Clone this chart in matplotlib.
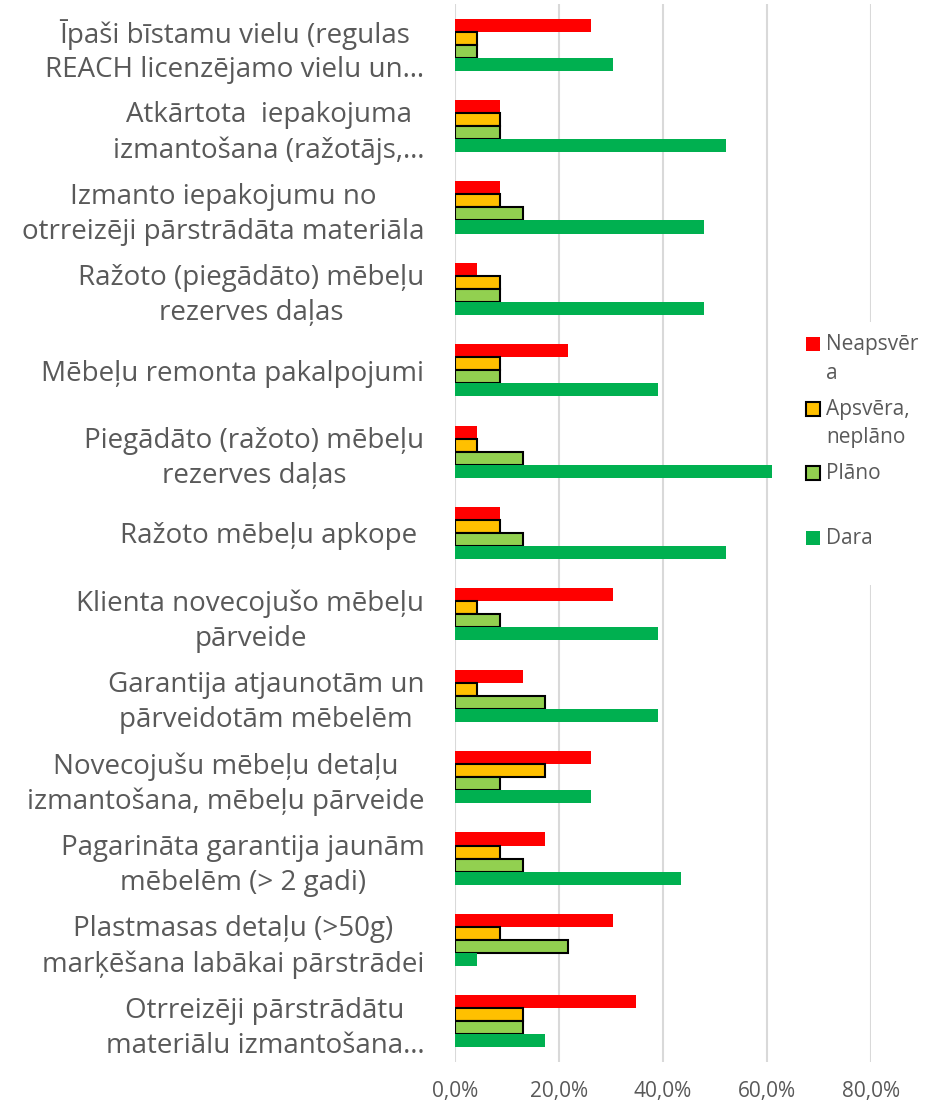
import numpy as np
import matplotlib.pyplot as plt
from matplotlib.patches import Rectangle
from matplotlib.ticker import FuncFormatter

categories = [
    "Īpaši bīstamu vielu (regulas\nREACH licenzējamo vielu un…",
    "Atkārtota  iepakojuma\nizmantošana (ražotājs,…",
    "Izmanto iepakojumu no\notrreizēji pārstrādāta materiāla",
    "Ražoto (piegādāto) mēbeļu\nrezerves daļas",
    "Mēbeļu remonta pakalpojumi",
    "Piegādāto (ražoto) mēbeļu\nrezerves daļas",
    "Ražoto mēbeļu apkope ",
    "Klienta novecojušo mēbeļu\npārveide",
    "Garantija atjaunotām un\npārveidotām mēbelēm",
    "Novecojušu mēbeļu detaļu\nizmantošana, mēbeļu pārveide",
    "Pagarināta garantija jaunām\nmēbelēm (> 2 gadi)",
    "Plastmasas detaļu (>50g)\nmarķēšana labākai pārstrādei",
    "Otrreizēji pārstrādātu\nmateriālu izmantošana…",
]

series_names = ["Neapsvēr\na", "Apsvēra,\nneplāno", "Plāno", "Dara"]
neapsvera = [26.1, 8.7, 8.7, 4.3, 21.7, 4.3, 8.7, 30.4, 13.0, 26.1, 17.4, 30.4, 34.8]
apsvera = [4.3, 8.7, 8.7, 8.7, 8.7, 4.3, 8.7, 4.3, 4.3, 17.4, 8.7, 8.7, 13.0]
plano = [4.3, 8.7, 13.0, 8.7, 8.7, 13.0, 13.0, 8.7, 17.4, 8.7, 13.0, 21.7, 13.0]
dara = [30.4, 52.2, 47.8, 47.8, 39.1, 60.9, 52.2, 39.1, 39.1, 26.1, 43.5, 4.3, 17.4]

colors = ["#FF0000", "#FFC000", "#92D050", "#00B050"]
edges = [None, "black", "black", None]
txt = "#595959"
font = "Open Sans"

fig = plt.figure(figsize=(9.28, 11.07), dpi=100)
ax = fig.add_axes([455 / 928, 1 - 1062 / 1107, 416 / 928, 1058 / 1107])

y = np.arange(len(categories))
h = 0.16
for i, vals in enumerate([neapsvera, apsvera, plano, dara]):
    off = (i - 1.5) * h
    if edges[i]:
        ax.barh(y + off, vals, height=h, color=colors[i], edgecolor=edges[i], linewidth=1.5, zorder=3)
    else:
        ax.barh(y + off, vals, height=h, color=colors[i], linewidth=0, zorder=3)

ax.set_ylim(len(categories) - 0.5, -0.5)
ax.set_xlim(0, 80)
ax.set_xticks([0, 20, 40, 60, 80])
ax.xaxis.set_major_formatter(FuncFormatter(lambda v, p: f"{v:.1f}%".replace(".", ",")))
ax.grid(axis="x", color="#D9D9D9", linewidth=1.5)
ax.set_axisbelow(True)
for s in ax.spines.values():
    s.set_visible(False)

ax.set_yticks(y)
ax.set_yticklabels(categories, multialignment="center", linespacing=1.32,
                   fontsize=20, color=txt, family=font)
ax.tick_params(axis="y", length=0, pad=22)
ax.tick_params(axis="x", length=0, pad=14, labelsize=15, labelcolor=txt)
for t in ax.get_xticklabels():
    t.set_family(font)

# legend box (Excel style: handle aligned with first line of each entry)
lax = fig.add_axes([795 / 928, 1 - 585 / 1107, 133 / 928, 263 / 1107], zorder=5)
lax.set_xlim(795, 928)
lax.set_ylim(585, 322)
lax.axis("off")
lax.add_patch(Rectangle((795, 322), 133, 263, color="white", zorder=0))
for i, name in enumerate(series_names):
    yc = 344 + i * 64.5
    lax.add_patch(Rectangle((806, yc - 7), 14, 14, facecolor=colors[i],
                            edgecolor=edges[i] if edges[i] else colors[i],
                            linewidth=1.5 if edges[i] else 0))
    lax.text(826, yc - 10, name, va="top", ha="left", fontsize=15,
             color=txt, family=font, linespacing=1.5)

fig.savefig("out.png", dpi=100)
